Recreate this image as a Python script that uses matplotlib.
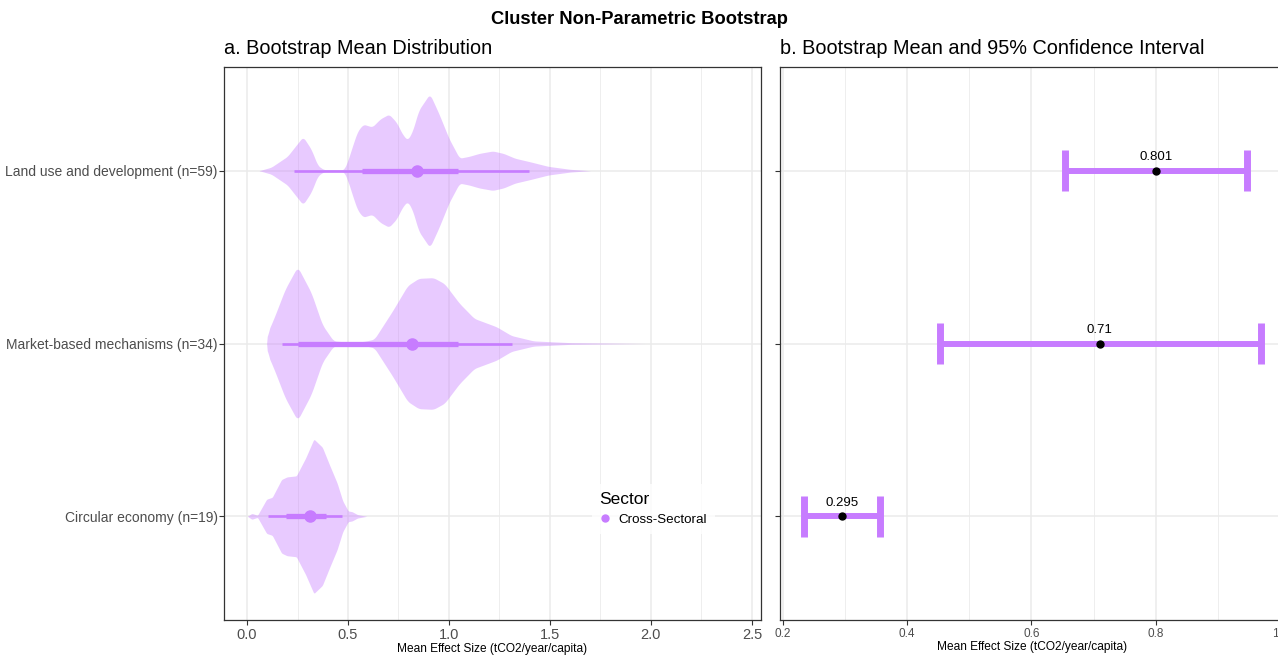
"""
Cluster non-parametric bootstrap: violin of bootstrap means + mean/95% CI.
"""
import numpy as np
import matplotlib
matplotlib.use("Agg")
import matplotlib.pyplot as plt
from matplotlib.lines import Line2D

plt.rcParams["font.family"] = ["Liberation Sans", "DejaVu Sans"]

# categories, bottom to top
categorias = ["Circular economy (n=19)", "Market-based mechanisms (n=34)",
              "Land use and development (n=59)"]

# violin outlines: value -> half width
circ_x = [0.002, 0.024, 0.052, 0.097, 0.125, 0.171, 0.198, 0.244, 0.290, 0.331,
          0.373, 0.409, 0.446, 0.474, 0.501, 0.520, 0.547, 0.593]
circ_hw = [0.0, 0.017, 0.006, 0.099, 0.110, 0.213, 0.228, 0.234, 0.337, 0.447,
           0.400, 0.296, 0.193, 0.089, 0.031, 0.027, 0.010, 0.0]

mkt_x = [0.097, 0.100, 0.134, 0.189, 0.250, 0.318, 0.373, 0.428, 0.500, 0.580,
         0.630, 0.721, 0.795, 0.850, 0.923, 0.978, 1.052, 1.125, 1.235, 1.309,
         1.419, 1.600, 1.970]
mkt_hw = [0.0, 0.057, 0.149, 0.315, 0.445, 0.294, 0.108, 0.015, 0.008, 0.012,
          0.025, 0.190, 0.335, 0.377, 0.381, 0.346, 0.232, 0.145, 0.097, 0.046,
          0.015, 0.005, 0.0]

land_x = [0.060, 0.120, 0.200, 0.277, 0.318, 0.350, 0.380, 0.480, 0.500, 0.520,
          0.547, 0.575, 0.620, 0.660, 0.703, 0.740, 0.770, 0.795, 0.820, 0.850,
          0.905, 0.950, 1.000, 1.052, 1.100, 1.150, 1.217, 1.270, 1.327, 1.400,
          1.492, 1.600, 1.700]
land_hw = [0.0, 0.020, 0.083, 0.197, 0.124, 0.030, 0.006, 0.005, 0.060, 0.135,
           0.228, 0.269, 0.253, 0.300, 0.327, 0.280, 0.210, 0.176, 0.230, 0.350,
           0.445, 0.330, 0.186, 0.072, 0.083, 0.100, 0.114, 0.100, 0.072, 0.052,
           0.025, 0.008, 0.0]

# point + interval inside the violins (median, 66% and 95%)
mediana = [0.312, 0.816, 0.840]
fino_lo = [0.103, 0.174, 0.235]
fino_hi = [0.470, 1.311, 1.394]
grosso_lo = [0.193, 0.253, 0.569]
grosso_hi = [0.391, 1.045, 1.045]

# bootstrap mean and 95% CI
media = [0.295, 0.710, 0.801]
ic_lo = [0.234, 0.4535, 0.654]
ic_hi = [0.357, 0.970, 0.947]
rotulos = ["0.295", "0.71", "0.801"]

ROXO = "#C77CFF"
GRID = "#EBEBEB"
W, H = 1278, 655

fig = plt.figure(figsize=(W / 100, H / 100), dpi=100)
ax1 = fig.add_axes([224 / W, 1 - 620 / H, (761 - 224) / W, (620 - 67) / H])
ax2 = fig.add_axes([779.5 / W, 1 - 620 / H, 505 / W, (620 - 67) / H])

ys = np.arange(1, len(categorias) + 1)


def suavizar(xs, hws):
    grade = np.linspace(xs[0], xs[-1], 600)
    v = np.interp(grade, xs, hws)
    k = np.ones(9) / 9
    vs = np.convolve(np.pad(v, 4, mode="edge"), k, mode="valid")
    vs[0], vs[-1] = v[0], v[-1]
    return grade, vs


for y, xs, hws in zip(ys, [circ_x, mkt_x, land_x], [circ_hw, mkt_hw, land_hw]):
    g, hw = suavizar(xs, hws)
    ax1.fill_between(g, y - hw, y + hw, color=ROXO, alpha=0.4, lw=0, zorder=2)

ax1.hlines(ys, fino_lo, fino_hi, color=ROXO, lw=1.9, zorder=3)
ax1.hlines(ys, grosso_lo, grosso_hi, color=ROXO, lw=3.8, zorder=3)
ax1.plot(mediana, ys, "o", color=ROXO, ms=8, zorder=4)

ax1.set_xlim(-0.114, 2.545)
ax1.set_xticks([0, 0.5, 1.0, 1.5, 2.0, 2.5])
ax1.set_xticklabels(["0.0", "0.5", "1.0", "1.5", "2.0", "2.5"])
ax1.set_xticks(np.arange(0.25, 2.5, 0.5), minor=True)

# right panel
ax2.hlines(ys, ic_lo, ic_hi, color=ROXO, lw=4.3, zorder=3)
ax2.vlines(ic_lo, ys - 0.12, ys + 0.12, color=ROXO, lw=5, zorder=3)
ax2.vlines(ic_hi, ys - 0.12, ys + 0.12, color=ROXO, lw=5, zorder=3)
ax2.plot(media, ys, "o", color="black", ms=5, zorder=4)
for x, y, t in zip(media, ys, rotulos):
    ax2.text(x, y + 0.078, t, ha="center", va="center", fontsize=9.5, color="black")

ax2.set_xlim(0.195, 1.007)
ax2.set_xticks([0.2, 0.4, 0.6, 0.8, 1.0])
ax2.set_xticks([0.3, 0.5, 0.7, 0.9], minor=True)

for ax in (ax1, ax2):
    ax.set_ylim(0.4, 3.6)
    ax.set_yticks(ys)
    ax.set_axisbelow(True)
    ax.grid(which="major", color=GRID, lw=1.1)
    ax.grid(which="minor", axis="x", color=GRID, lw=0.6)
    for s in ax.spines.values():
        s.set_color("#333333")
        s.set_linewidth(0.9)
    ax.tick_params(which="major", length=3.5, width=0.8, color="#333333")
    ax.tick_params(which="minor", length=0)
    ax.set_xlabel("Mean Effect Size (tCO2/year/capita)", fontsize=8.6, labelpad=1)

ax1.set_yticklabels(categorias, fontsize=10, color="#4D4D4D")
ax1.tick_params(axis="y", pad=1)
ax1.tick_params(axis="x", labelsize=10.5, labelcolor="#4D4D4D", pad=2)
ax2.set_yticklabels([])
ax2.tick_params(axis="x", labelsize=8.5, labelcolor="#4D4D4D", pad=2)

ax1.set_title("a. Bootstrap Mean Distribution", loc="left", fontsize=14.3, pad=9)
ax2.set_title("b. Bootstrap Mean and 95% Confidence Interval", loc="left",
              fontsize=14.3, pad=9)
fig.text(0.5, 1 - 20 / H, "Cluster Non-Parametric Bootstrap", ha="center",
         va="center", fontsize=13.2, fontweight="bold")

handle = Line2D([], [], marker="o", color=ROXO, ls="none", ms=5)
leg = ax1.legend([handle], ["Cross-Sectoral"], title="Sector", loc="upper left",
                 bbox_to_anchor=((585 - 224) / (761 - 224), (620 - 477) / (620 - 67)),
                 frameon=True, fontsize=9.6, title_fontsize=12.5, handlelength=0.8,
                 handletextpad=0.6, borderpad=0.6, fancybox=False)
leg.get_frame().set_facecolor("white")
leg.get_frame().set_edgecolor("none")
leg._legend_box.align = "left"

fig.savefig("out.png", dpi=100)
